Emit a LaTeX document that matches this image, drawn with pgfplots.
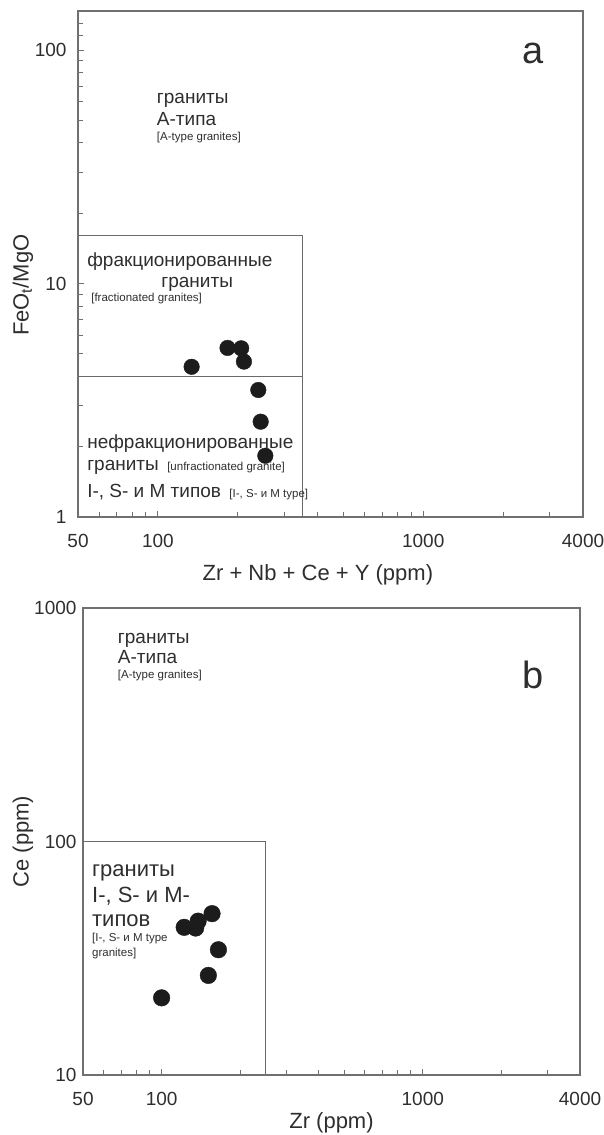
\documentclass[border=0pt]{standalone}
\usepackage{fontspec}
\setmainfont{Liberation Sans}
\usepackage{pgfplots}
\pgfplotsset{compat=1.18}

\definecolor{axisgray}{HTML}{707070}
\definecolor{boxgray}{HTML}{6A6A6A}
\definecolor{txt}{HTML}{2E2E2E}
\definecolor{dot}{HTML}{1C1C1C}

\newcommand{\ticksize}{\fontsize{19pt}{22pt}\selectfont}
\newcommand{\labsize}{\fontsize{22pt}{26pt}\selectfont}
\newcommand{\regsize}{\fontsize{19pt}{22pt}\selectfont}
\newcommand{\bigreg}{\fontsize{22pt}{26pt}\selectfont}
\newcommand{\smallreg}{\fontsize{11.5pt}{13pt}\selectfont}
\newcommand{\panelsize}{\fontsize{38pt}{44pt}\selectfont}

\pgfplotsset{
  graniteaxis/.style={
    scale only axis,
    axis line style={axisgray, line width=1.2pt},
    every tick/.style={axisgray, line width=1pt},
    tick align=inside,
    tick pos=left,
    major tick length=6pt,
    minor tick length=5pt,
    xmin=50, xmax=4000,
    xtick={50,100,1000,4000},
    xticklabels={50,100,1000,4000},
    minor xtick={60,70,80,90,200,300,400,500,600,700,800,900,2000,3000},
    tick label style={font=\ticksize, text=txt},
    xticklabel style={yshift=-14pt},
    label style={font=\labsize, text=txt},
    clip=false,
  },
  fieldline/.style={boxgray, line width=1pt, no marks},
  rockpts/.style={only marks, mark=*, mark options={fill=dot, draw=dot}},
}

\begin{document}
\begin{tikzpicture}
\useasboundingbox (0,0) rectangle (604pt,-1135pt);

% (a) FeOt/MgO versus Zr+Nb+Ce+Y
\begin{loglogaxis}[graniteaxis,
  at={(78pt,-517pt)}, anchor=south west,
  width=505pt, height=506pt,
  ymin=1, ymax=147,
  ytick={1,10,100}, yticklabels={1,10,100},
  minor ytick={2,3,4,5,6,7,8,9,20,30,40,50,60,70,80,90,115,130},
  yticklabel style={xshift=-8pt},
  xlabel={Zr + Nb + Ce + Y (ppm)},
  xlabel style={at={(rel axis cs:0.475,-0.115)}, anchor=center},
  ylabel={FeO\textsubscript{t}/MgO},
  ylabel style={at={(rel axis cs:-0.109,0.458)}, anchor=center},
]
  \addplot[fieldline] coordinates {(50,16) (350,16) (350,1)};
  \addplot[fieldline] coordinates {(50,4) (350,4)};
  \addplot[rockpts, mark size=7.8pt] coordinates {
    (134,4.4) (183,5.3) (206,5.28) (211,4.63) (239,3.5) (244,2.56) (254,1.83)
  };
  \node[font=\panelsize, text=txt] at (rel axis cs:0.901,0.917) {a};
  \node[font=\regsize, text=txt, anchor=base west, inner sep=0pt] at (rel axis cs:0.156,0.818) {граниты};
  \node[font=\regsize, text=txt, anchor=base west, inner sep=0pt] at (rel axis cs:0.156,0.773) {А-типа};
  \node[font=\smallreg, text=txt, anchor=base west, inner sep=0pt] at (rel axis cs:0.156,0.745) {[A-type granites]};
  \node[font=\regsize, text=txt, anchor=base west, inner sep=0pt] at (rel axis cs:0.018,0.496) {фракционированные};
  \node[font=\regsize, text=txt, anchor=base, inner sep=0pt] at (rel axis cs:0.236,0.4545) {граниты};
  \node[font=\smallreg, text=txt, anchor=base west, inner sep=0pt] at (rel axis cs:0.026,0.425) {[fractionated granites]};
  \node[font=\regsize, text=txt, anchor=base west, inner sep=0pt] at (rel axis cs:0.018,0.136) {нефракционированные};
  \node[font=\regsize, text=txt, anchor=base west, inner sep=0pt] at (rel axis cs:0.018,0.091) {граниты {\smallreg\ [unfractionated granite]}};
  \node[font=\regsize, text=txt, anchor=base west, inner sep=0pt] at (rel axis cs:0.018,0.0395) {I-, S- и M типов {\smallreg\ [I-, S- и M type]}};
\end{loglogaxis}

% (b) Ce versus Zr
\begin{loglogaxis}[graniteaxis,
  at={(83pt,-1075pt)}, anchor=south west,
  width=497pt, height=467pt,
  ymin=10, ymax=1000,
  ytick={10,100,1000}, yticklabels={10,100,1000},
  ytick style={draw=none},
  minor ytick={},
  yticklabel style={xshift=-3pt},
  xlabel={Zr (ppm)},
  xlabel style={at={(rel axis cs:0.50,-0.103)}, anchor=center},
  ylabel={Ce (ppm)},
  ylabel style={at={(rel axis cs:-0.121,0.5)}, anchor=center},
]
  \addplot[fieldline] coordinates {(50,100) (250,100) (250,10)};
  \addplot[rockpts, mark size=8.3pt] coordinates {
    (100,21.4) (122,42.9) (135,42.6) (138,45.6) (156,49.1) (165,34.4) (151,26.7)
  };
  \node[font=\panelsize, text=txt] at (rel axis cs:0.905,0.857) {b};
  \node[font=\regsize, text=txt, anchor=base west, inner sep=0pt] at (rel axis cs:0.070,0.925) {граниты};
  \node[font=\regsize, text=txt, anchor=base west, inner sep=0pt] at (rel axis cs:0.070,0.882) {А-типа};
  \node[font=\smallreg, text=txt, anchor=base west, inner sep=0pt] at (rel axis cs:0.070,0.850) {[A-type granites]};
  \node[font=\bigreg, text=txt, anchor=base west, inner sep=0pt] at (rel axis cs:0.018,0.426) {граниты};
  \node[font=\bigreg, text=txt, anchor=base west, inner sep=0pt] at (rel axis cs:0.018,0.370) {I-, S- и M-};
  \node[font=\bigreg, text=txt, anchor=base west, inner sep=0pt] at (rel axis cs:0.018,0.317) {типов};
  \node[font=\smallreg, text=txt, anchor=base west, inner sep=0pt] at (rel axis cs:0.018,0.285) {[I-, S- и M type};
  \node[font=\smallreg, text=txt, anchor=base west, inner sep=0pt] at (rel axis cs:0.018,0.253) {granites]};
\end{loglogaxis}
\end{tikzpicture}
\end{document}
